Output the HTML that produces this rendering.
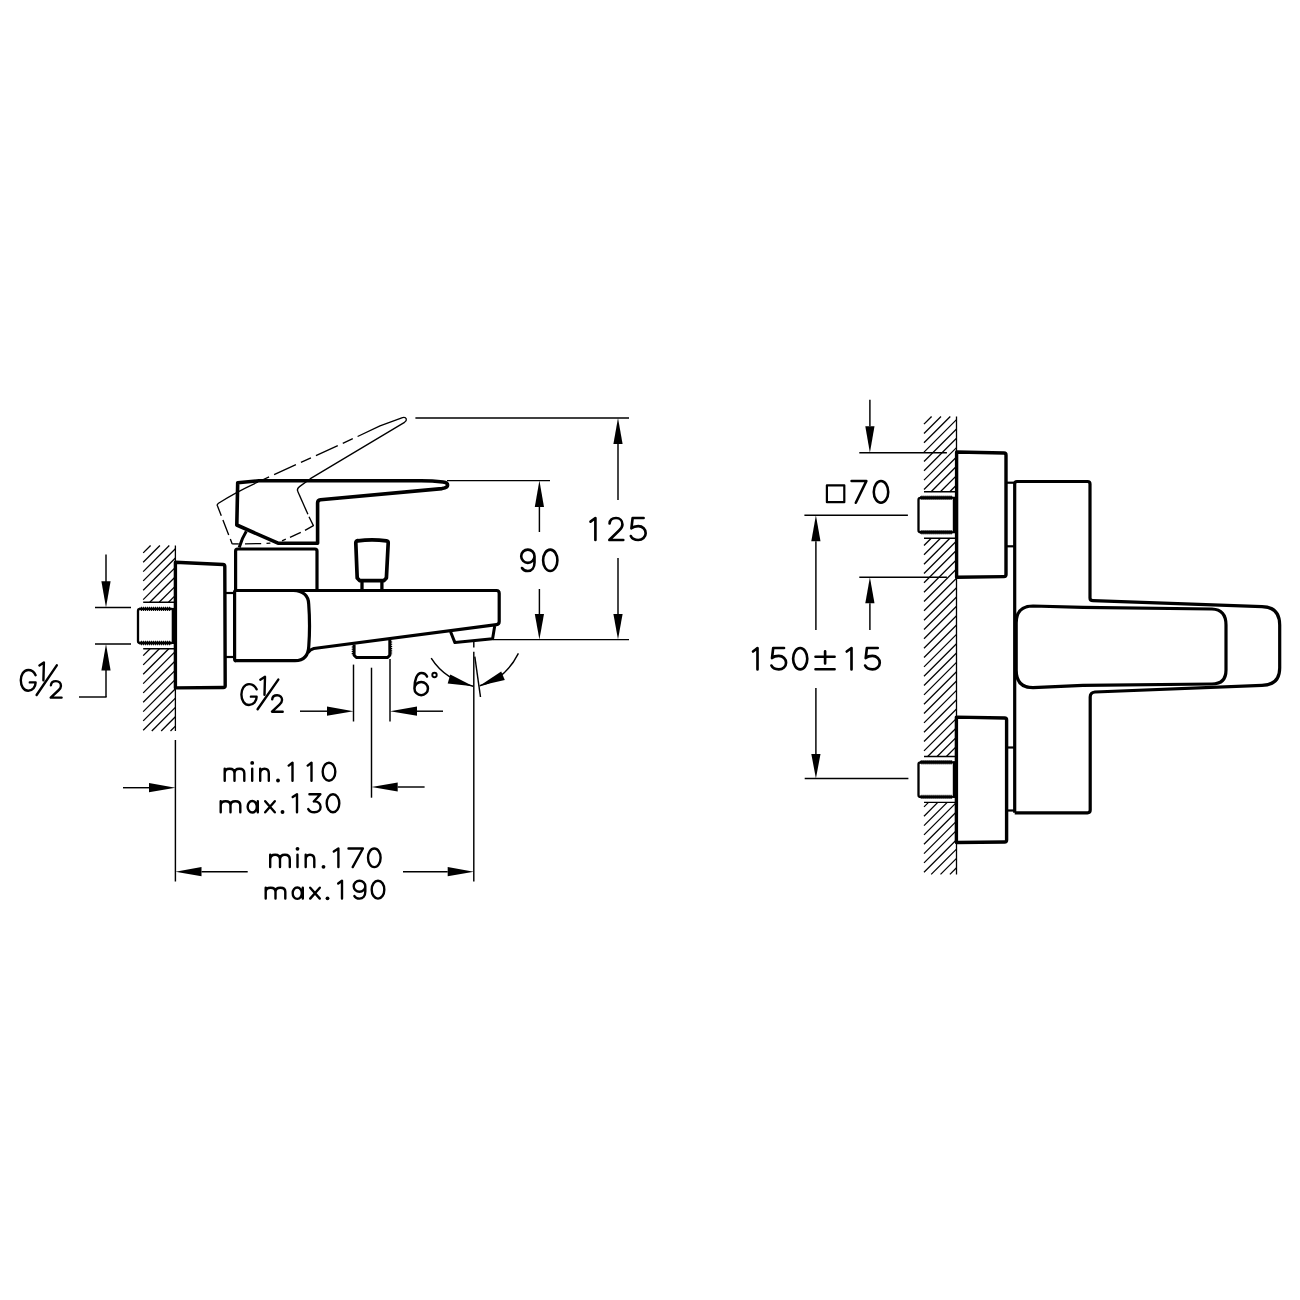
<!DOCTYPE html>
<html><head><meta charset="utf-8"><style>
html,body{margin:0;padding:0;background:#fff;}
svg{display:block;}
</style></head><body>
<svg width="1300" height="1300" viewBox="0 0 1300 1300">
<g fill="none" stroke="#000" stroke-linecap="butt" stroke-linejoin="round">
<style>.f{fill:#000;stroke:none}</style>
<rect x="0" y="0" width="1300" height="1300" fill="#fff" stroke="none"/>
<line x1="143.2" y1="552.9" x2="150.6" y2="545.5" stroke-width="1.3" />
<line x1="143.2" y1="562.2" x2="159.9" y2="545.5" stroke-width="1.3" />
<line x1="143.2" y1="571.6" x2="169.3" y2="545.5" stroke-width="1.3" />
<line x1="143.2" y1="580.9" x2="175.4" y2="548.7" stroke-width="1.3" />
<line x1="143.2" y1="590.2" x2="175.4" y2="558.0" stroke-width="1.3" />
<line x1="143.2" y1="599.6" x2="175.4" y2="567.4" stroke-width="1.3" />
<line x1="149.8" y1="602.3" x2="175.4" y2="576.7" stroke-width="1.3" />
<line x1="159.2" y1="602.3" x2="175.4" y2="586.1" stroke-width="1.3" />
<line x1="168.5" y1="602.3" x2="175.4" y2="595.4" stroke-width="1.3" />
<line x1="143.2" y1="655.6" x2="150.1" y2="648.7" stroke-width="1.3" />
<line x1="143.2" y1="664.9" x2="159.4" y2="648.7" stroke-width="1.3" />
<line x1="143.2" y1="674.3" x2="168.8" y2="648.7" stroke-width="1.3" />
<line x1="143.2" y1="683.6" x2="175.4" y2="651.4" stroke-width="1.3" />
<line x1="143.2" y1="692.9" x2="175.4" y2="660.7" stroke-width="1.3" />
<line x1="143.2" y1="702.3" x2="175.4" y2="670.1" stroke-width="1.3" />
<line x1="143.2" y1="711.6" x2="175.4" y2="679.4" stroke-width="1.3" />
<line x1="143.2" y1="720.9" x2="175.4" y2="688.7" stroke-width="1.3" />
<line x1="143.2" y1="730.3" x2="175.4" y2="698.1" stroke-width="1.3" />
<line x1="151.8" y1="731.0" x2="175.4" y2="707.4" stroke-width="1.3" />
<line x1="161.2" y1="731.0" x2="175.4" y2="716.8" stroke-width="1.3" />
<line x1="170.5" y1="731.0" x2="175.4" y2="726.1" stroke-width="1.3" />
<line x1="143.2" y1="602.3" x2="175.4" y2="602.3" stroke-width="1.4" />
<line x1="143.2" y1="648.7" x2="175.4" y2="648.7" stroke-width="1.4" />
<line x1="175.4" y1="545.5" x2="175.4" y2="731.0" stroke-width="1.3" />
<line x1="175.4" y1="740.0" x2="175.4" y2="881.5" stroke-width="1.45" />
<path d="M140.0,608.9 Q138,608.9 138,610.9 L138,641.0 Q138,643.0 140.0,643.0" stroke-width="2.3" />
<line x1="139.5" y1="608.9" x2="171.5" y2="608.9" stroke-width="2.9" />
<line x1="139.5" y1="643.0" x2="171.5" y2="643.0" stroke-width="2.9" />
<line x1="141.0" y1="608.9" x2="171.0" y2="608.9" stroke-width="4.4" stroke-dasharray="0.9 1.1"/>
<line x1="141.0" y1="643.0" x2="171.0" y2="643.0" stroke-width="4.4" stroke-dasharray="0.9 1.1"/>
<line x1="171.0" y1="608.9" x2="175.0" y2="608.9" stroke-width="1.8" />
<line x1="171.0" y1="643.0" x2="175.0" y2="643.0" stroke-width="1.8" />
<line x1="172.9" y1="607.9" x2="172.9" y2="644.0" stroke-width="2.4" />
<path d="M175.4,562.3 L223,564.5 Q224.8,564.6 224.8,566.5 L225.2,685.8 Q225.2,687.5 223.3,687.5 L175.4,687.9 Z" stroke-width="3.4" />
<line x1="224.8" y1="593.0" x2="234.6" y2="593.0" stroke-width="2.2" />
<line x1="225.0" y1="657.0" x2="234.6" y2="657.0" stroke-width="2.2" />
<path d="M235.6,590 L235.6,551 Q235.6,549 237.6,549 L315,549 Q317,549 317,551 L317,590" stroke-width="3.2" />
<path d="M236,660.8 Q234.6,660.8 234.6,659 L234.6,592 Q234.6,590.5 236.5,590.5 L496.5,590.5 Q499.2,590.5 499.2,593.5 L499.2,621.5 Q499.2,624.3 496.5,624.6 L313.8,648.5 Q310,649.5 308,652.5" stroke-width="3.2" />
<path d="M293.5,590.5 Q308.3,591.2 308.7,604 Q310.3,625 308.8,646 Q308.2,660.7 295,660.7 L236,660.7" stroke-width="3.2" />
<path d="M450.6,631.8 L454.9,642.6 L492.6,638.8 L494.7,626" stroke-width="3.0" />
<path d="M354.1,644.5 L354.1,655.2 L356.4,657.5 L387.6,657.5 L389.8,655.2 L389.8,639.8" stroke-width="3.0" />
<path d="M352.6,646.5 L352.6,655" stroke-width="1.8" stroke-dasharray="1.1 1.1"/>
<path d="M391.3,641.5 L391.3,655" stroke-width="1.8" stroke-dasharray="1.1 1.1"/>
<path d="M357.8,540.8 C365,539.9 379,539.9 386.5,540.8 Q388.3,541 388.2,543 L386.4,578 L384,580.6 L359.6,580.6 L357.2,578 L355.8,543 Q355.8,541 357.8,540.6 Z" stroke-width="3.7" />
<line x1="362.0" y1="581.0" x2="362.0" y2="590.0" stroke-width="3.3" />
<line x1="381.9" y1="581.0" x2="381.9" y2="590.0" stroke-width="3.3" />
<path d="M317.6,543.2 L317.6,503 Q317.6,500.2 320.5,499.8 L442,488.6 Q447.6,487.6 447.6,485 Q447.6,482.6 443,482 C435,481 428,480.7 421,480.7 L259,480.7 L237.7,482.8 L236.8,525 L278,543.2 Z" stroke-width="3.6" stroke-linejoin="round"/>
<path d="M246.3,531.3 Q241.8,538.5 239.2,547.5" stroke-width="3.0" />
<path d="M217.5,506 Q216.6,504.6 218.5,503.2 Q236,492 258,482" stroke-width="1.35" />
<path d="M217.5,506 L232.2,543.9" stroke-width="1.35" stroke-dasharray="10.5 4.5 16 4.5"/>
<path d="M258,482 L357.6,436.5" stroke-width="1.35" stroke-dasharray="24 5.5 11 5.5" stroke-dashoffset="28.3"/>
<path d="M357.6,436.5 L380,425.8 L402.5,417.6 Q405.5,416.8 406.3,419 Q406.8,420.6 404.5,422.3 L310.4,478.7 L299.5,486.6 Q296.8,488.6 297.6,491" stroke-width="1.35" />
<path d="M297.6,491 L307.9,514.3" stroke-width="1.35" />
<path d="M309,516.8 L313.4,525.6 L305,530.4" stroke-width="1.35" />
<path d="M300.8,532.3 L290,537.3" stroke-width="1.35" />
<path d="M285.8,539.2 L282,540.8" stroke-width="1.35" />
<path d="M266.5,543.3 L270.4,543.1" stroke-width="1.35" />
<path d="M245,543.8 L261.2,543.6" stroke-width="1.35" />
<path d="M232.2,543.9 L238.8,543.9" stroke-width="1.35" />
<line x1="95.0" y1="607.5" x2="131.0" y2="607.5" stroke-width="1.45" />
<line x1="95.0" y1="644.0" x2="131.0" y2="644.0" stroke-width="1.45" />
<line x1="106.0" y1="554.6" x2="106.0" y2="582.0" stroke-width="1.45" />
<polygon class="f" points="106.0,607.5 101.4,581.3 110.6,581.3"/>
<line x1="106.0" y1="670.0" x2="106.0" y2="697.0" stroke-width="1.45" />
<polygon class="f" points="106.0,644.0 110.6,670.5 101.4,670.5"/>
<line x1="79.0" y1="697.0" x2="106.6" y2="697.0" stroke-width="1.45" />
<line x1="415.4" y1="418.0" x2="629.0" y2="418.0" stroke-width="1.45" />
<line x1="447.0" y1="480.6" x2="550.0" y2="480.6" stroke-width="1.45" />
<line x1="493.0" y1="639.6" x2="629.0" y2="639.6" stroke-width="1.45" />
<line x1="618.0" y1="444.0" x2="618.0" y2="500.0" stroke-width="1.45" />
<polygon class="f" points="618.0,418.0 622.6,444.0 613.4,444.0"/>
<line x1="618.0" y1="558.0" x2="618.0" y2="614.0" stroke-width="1.45" />
<polygon class="f" points="618.0,639.6 613.4,614.0 622.6,614.0"/>
<line x1="539.4" y1="507.0" x2="539.4" y2="532.0" stroke-width="1.45" />
<polygon class="f" points="539.4,480.6 544.0,507.0 534.8,507.0"/>
<line x1="539.4" y1="589.0" x2="539.4" y2="614.0" stroke-width="1.45" />
<polygon class="f" points="539.4,639.6 534.8,614.0 544.0,614.0"/>
<line x1="353.5" y1="664.6" x2="353.5" y2="721.5" stroke-width="1.45" />
<line x1="390.0" y1="659.0" x2="390.0" y2="721.5" stroke-width="1.45" />
<line x1="371.5" y1="667.7" x2="371.5" y2="797.7" stroke-width="1.45" />
<line x1="300.0" y1="711.2" x2="327.0" y2="711.2" stroke-width="1.45" />
<polygon class="f" points="353.5,711.2 327.0,715.8 327.0,706.6"/>
<line x1="417.0" y1="711.2" x2="443.0" y2="711.2" stroke-width="1.45" />
<polygon class="f" points="390.0,711.2 417.0,706.6 417.0,715.8"/>
<line x1="397.7" y1="787.0" x2="424.6" y2="787.0" stroke-width="1.45" />
<polygon class="f" points="371.5,787.0 397.7,782.4 397.7,791.6"/>
<line x1="123.0" y1="787.7" x2="149.0" y2="787.7" stroke-width="1.45" />
<polygon class="f" points="175.4,787.7 149.0,792.3 149.0,783.1"/>
<line x1="473.8" y1="651.8" x2="473.8" y2="881.5" stroke-width="1.45" />
<line x1="473.8" y1="642.0" x2="473.8" y2="647.5" stroke-width="1.45" />
<line x1="201.5" y1="871.7" x2="247.7" y2="871.7" stroke-width="1.45" />
<polygon class="f" points="175.4,871.7 201.5,867.1 201.5,876.3"/>
<line x1="403.0" y1="871.7" x2="447.7" y2="871.7" stroke-width="1.45" />
<polygon class="f" points="473.8,871.7 447.7,876.3 447.7,867.1"/>
<line x1="474.8" y1="656.6" x2="480.5" y2="697.0" stroke-width="1.45" />
<path d="M431.2,658.2 Q445,680 473.2,686.2" stroke-width="1.45" />
<path d="M518.4,653.4 Q505,680 479.7,685.7" stroke-width="1.45" />
<polygon class="f" points="473.2,686.2 447.7,683.4 450.3,674.6"/>
<polygon class="f" points="479.7,685.7 501.2,671.5 504.8,679.9"/>
<line x1="924.0" y1="424.1" x2="931.6" y2="416.5" stroke-width="1.3" />
<line x1="924.0" y1="433.5" x2="941.0" y2="416.5" stroke-width="1.3" />
<line x1="924.0" y1="442.8" x2="950.3" y2="416.5" stroke-width="1.3" />
<line x1="924.0" y1="452.1" x2="956.5" y2="419.6" stroke-width="1.3" />
<line x1="924.0" y1="461.5" x2="956.5" y2="429.0" stroke-width="1.3" />
<line x1="924.0" y1="470.8" x2="956.5" y2="438.3" stroke-width="1.3" />
<line x1="924.0" y1="480.1" x2="956.5" y2="447.6" stroke-width="1.3" />
<line x1="924.0" y1="489.5" x2="956.5" y2="457.0" stroke-width="1.3" />
<line x1="931.1" y1="491.7" x2="956.5" y2="466.3" stroke-width="1.3" />
<line x1="940.4" y1="491.7" x2="956.5" y2="475.6" stroke-width="1.3" />
<line x1="949.8" y1="491.7" x2="956.5" y2="485.0" stroke-width="1.3" />
<line x1="924.0" y1="545.5" x2="931.2" y2="538.3" stroke-width="1.3" />
<line x1="924.0" y1="554.8" x2="940.5" y2="538.3" stroke-width="1.3" />
<line x1="924.0" y1="564.2" x2="949.9" y2="538.3" stroke-width="1.3" />
<line x1="924.0" y1="573.5" x2="956.5" y2="541.0" stroke-width="1.3" />
<line x1="924.0" y1="582.8" x2="956.5" y2="550.3" stroke-width="1.3" />
<line x1="924.0" y1="592.2" x2="956.5" y2="559.7" stroke-width="1.3" />
<line x1="924.0" y1="601.5" x2="956.5" y2="569.0" stroke-width="1.3" />
<line x1="924.0" y1="610.8" x2="956.5" y2="578.3" stroke-width="1.3" />
<line x1="924.0" y1="620.2" x2="956.5" y2="587.7" stroke-width="1.3" />
<line x1="924.0" y1="629.5" x2="956.5" y2="597.0" stroke-width="1.3" />
<line x1="924.0" y1="638.8" x2="956.5" y2="606.3" stroke-width="1.3" />
<line x1="924.0" y1="648.2" x2="956.5" y2="615.7" stroke-width="1.3" />
<line x1="924.0" y1="657.5" x2="956.5" y2="625.0" stroke-width="1.3" />
<line x1="924.0" y1="666.9" x2="956.5" y2="634.4" stroke-width="1.3" />
<line x1="924.0" y1="676.2" x2="956.5" y2="643.7" stroke-width="1.3" />
<line x1="924.0" y1="685.5" x2="956.5" y2="653.0" stroke-width="1.3" />
<line x1="924.0" y1="694.9" x2="956.5" y2="662.4" stroke-width="1.3" />
<line x1="924.0" y1="704.2" x2="956.5" y2="671.7" stroke-width="1.3" />
<line x1="924.0" y1="713.5" x2="956.5" y2="681.0" stroke-width="1.3" />
<line x1="924.0" y1="722.9" x2="956.5" y2="690.4" stroke-width="1.3" />
<line x1="924.0" y1="732.2" x2="956.5" y2="699.7" stroke-width="1.3" />
<line x1="924.0" y1="741.5" x2="956.5" y2="709.0" stroke-width="1.3" />
<line x1="924.0" y1="750.9" x2="956.5" y2="718.4" stroke-width="1.3" />
<line x1="927.7" y1="756.5" x2="956.5" y2="727.7" stroke-width="1.3" />
<line x1="937.1" y1="756.5" x2="956.5" y2="737.1" stroke-width="1.3" />
<line x1="946.4" y1="756.5" x2="956.5" y2="746.4" stroke-width="1.3" />
<line x1="955.7" y1="756.5" x2="956.5" y2="755.7" stroke-width="1.3" />
<line x1="924.0" y1="806.9" x2="928.5" y2="802.4" stroke-width="1.3" />
<line x1="924.0" y1="816.2" x2="937.8" y2="802.4" stroke-width="1.3" />
<line x1="924.0" y1="825.6" x2="947.2" y2="802.4" stroke-width="1.3" />
<line x1="924.0" y1="834.9" x2="956.5" y2="802.4" stroke-width="1.3" />
<line x1="924.0" y1="844.2" x2="956.5" y2="811.7" stroke-width="1.3" />
<line x1="924.0" y1="853.6" x2="956.5" y2="821.1" stroke-width="1.3" />
<line x1="924.0" y1="862.9" x2="956.5" y2="830.4" stroke-width="1.3" />
<line x1="924.0" y1="872.2" x2="956.5" y2="839.7" stroke-width="1.3" />
<line x1="931.2" y1="874.4" x2="956.5" y2="849.1" stroke-width="1.3" />
<line x1="940.5" y1="874.4" x2="956.5" y2="858.4" stroke-width="1.3" />
<line x1="949.9" y1="874.4" x2="956.5" y2="867.8" stroke-width="1.3" />
<line x1="924.0" y1="491.7" x2="956.5" y2="491.7" stroke-width="1.4" />
<line x1="924.0" y1="538.3" x2="956.5" y2="538.3" stroke-width="1.4" />
<line x1="924.0" y1="756.5" x2="956.5" y2="756.5" stroke-width="1.4" />
<line x1="924.0" y1="802.4" x2="956.5" y2="802.4" stroke-width="1.4" />
<line x1="956.5" y1="416.5" x2="956.5" y2="874.4" stroke-width="1.3" />
<path d="M920.5,497.8 Q918.5,497.8 918.5,499.8 L918.5,530.2 Q918.5,532.2 920.5,532.2" stroke-width="2.3" />
<line x1="920.0" y1="497.8" x2="952.5" y2="497.8" stroke-width="2.9" />
<line x1="920.0" y1="532.2" x2="952.5" y2="532.2" stroke-width="2.9" />
<line x1="921.5" y1="497.8" x2="952.0" y2="497.8" stroke-width="4.4" stroke-dasharray="0.9 1.1"/>
<line x1="921.5" y1="532.2" x2="952.0" y2="532.2" stroke-width="4.4" stroke-dasharray="0.9 1.1"/>
<line x1="952.0" y1="497.8" x2="956.0" y2="497.8" stroke-width="1.8" />
<line x1="952.0" y1="532.2" x2="956.0" y2="532.2" stroke-width="1.8" />
<line x1="954.0" y1="496.8" x2="954.0" y2="533.2" stroke-width="2.4" />
<path d="M920.5,762.3 Q918.5,762.3 918.5,764.3 L918.5,794.9 Q918.5,796.9 920.5,796.9" stroke-width="2.3" />
<line x1="920.0" y1="762.3" x2="952.5" y2="762.3" stroke-width="2.9" />
<line x1="920.0" y1="796.9" x2="952.5" y2="796.9" stroke-width="2.9" />
<line x1="921.5" y1="762.3" x2="952.0" y2="762.3" stroke-width="4.4" stroke-dasharray="0.9 1.1"/>
<line x1="921.5" y1="796.9" x2="952.0" y2="796.9" stroke-width="4.4" stroke-dasharray="0.9 1.1"/>
<line x1="952.0" y1="762.3" x2="956.0" y2="762.3" stroke-width="1.8" />
<line x1="952.0" y1="796.9" x2="956.0" y2="796.9" stroke-width="1.8" />
<line x1="954.0" y1="761.3" x2="954.0" y2="797.9" stroke-width="2.4" />
<path d="M956.6,452 L1004,453 Q1006,453 1006,455 L1006,574.6 Q1006,576.6 1004,576.6 L956.6,577.2 Z" stroke-width="3.4" />
<path d="M956.4,717.1 L1004.6,718 Q1006.6,718 1006.6,720 L1006.6,840 Q1006.6,842 1004.6,842 L956.4,842.5 Z" stroke-width="3.4" />
<line x1="1006.0" y1="482.7" x2="1015.0" y2="482.7" stroke-width="2.2" />
<line x1="1006.0" y1="546.3" x2="1015.0" y2="546.3" stroke-width="2.2" />
<line x1="1006.6" y1="747.5" x2="1014.7" y2="747.5" stroke-width="2.2" />
<line x1="1006.6" y1="810.5" x2="1014.7" y2="810.5" stroke-width="2.2" />
<path d="M1014.7,812.8 L1014.7,484 Q1014.7,481.5 1017,481.5 L1087.5,481.5 Q1090,481.5 1090,484 L1090,598 Q1090,600.7 1093,600.7 L1262,606.6 Q1279.7,607 1279.7,625 L1279.7,668 Q1279.7,685 1262,685.3 L1095,692 Q1090.2,692.5 1090.2,697 L1090.2,810 Q1090.2,812.8 1087.5,812.8 L1014.7,812.8" stroke-width="3.2" />
<path d="M1033,606 L1083,607.4 L1212,609 Q1226,609.5 1226,625 L1226,670 Q1226,684 1212,684 L1083,685.3 L1033,687.7 Q1016.2,687.7 1016.2,670 L1016.2,623 Q1016.2,606 1033,606 Z" stroke-width="3.2" />
<line x1="869.9" y1="399.7" x2="869.9" y2="426.3" stroke-width="1.45" />
<polygon class="f" points="869.9,452.8 865.3,426.3 874.5,426.3"/>
<line x1="859.3" y1="452.8" x2="946.9" y2="452.8" stroke-width="1.45" />
<line x1="859.3" y1="577.2" x2="946.9" y2="577.2" stroke-width="1.45" />
<line x1="869.9" y1="603.2" x2="869.9" y2="630.0" stroke-width="1.45" />
<polygon class="f" points="869.9,577.2 874.5,603.2 865.3,603.2"/>
<line x1="804.4" y1="515.3" x2="907.9" y2="515.3" stroke-width="1.45" />
<line x1="815.9" y1="541.3" x2="815.9" y2="630.0" stroke-width="1.45" />
<polygon class="f" points="815.9,515.3 820.5,541.3 811.3,541.3"/>
<line x1="815.9" y1="688.0" x2="815.9" y2="754.0" stroke-width="1.45" />
<polygon class="f" points="815.9,778.5 811.3,754.0 820.5,754.0"/>
<line x1="804.7" y1="778.5" x2="908.4" y2="778.5" stroke-width="1.45" />
<path d="M590.53,521.62 L595.40,518.03 L595.40,539.97" stroke-width="2.65" stroke-linecap="round" stroke-linejoin="round"/>
<path d="M609.60,523.51 C609.88,519.56 612.39,518.03 616.02,518.03 C619.93,518.03 622.44,520.66 622.44,524.39 C622.44,527.02 621.18,528.56 619.09,530.54 L609.33,539.97 L623.27,539.97" stroke-width="2.65" stroke-linecap="round" stroke-linejoin="round"/>
<path d="M643.60,518.03 L632.61,518.03 L631.42,528.34 C633.05,526.81 635.28,526.15 638.25,526.15 C642.70,526.15 645.67,529.44 645.67,533.17 C645.67,537.12 642.41,539.97 638.25,539.97 C634.54,539.97 631.86,538.44 630.83,536.02" stroke-width="2.65" stroke-linecap="round" stroke-linejoin="round"/>
<path d="M521.20,556.23 A6.65,6.63 0 1 0 534.50,556.23 A6.65,6.63 0 1 0 521.20,556.23 M534.50,556.23 L534.50,562.44 C534.50,567.58 531.84,571.00 527.85,571.00 C525.19,571.00 523.06,569.93 522.00,568.00" stroke-width="2.6" stroke-linecap="round" stroke-linejoin="round"/>
<path d="M543.10,560.30 A7.15,10.70 0 1 0 557.40,560.30 A7.15,10.70 0 1 0 543.10,560.30" stroke-width="2.6" stroke-linecap="round" stroke-linejoin="round"/>
<path d="M753.03,651.50 L757.50,648.03 L757.50,669.38" stroke-width="2.65" stroke-linecap="round" stroke-linejoin="round"/>
<path d="M784.02,648.03 L773.18,648.03 L772.01,658.06 C773.62,656.57 775.82,655.92 778.75,655.92 C783.14,655.92 786.07,659.13 786.07,662.76 C786.07,666.60 782.85,669.38 778.75,669.38 C775.09,669.38 772.45,667.88 771.43,665.53" stroke-width="2.65" stroke-linecap="round" stroke-linejoin="round"/>
<path d="M793.12,658.70 A7.07,10.67 0 1 0 807.28,658.70 A7.07,10.67 0 1 0 793.12,658.70" stroke-width="2.65" stroke-linecap="round" stroke-linejoin="round"/>
<path d="M815.53,656.70 L834.57,656.70 M825.10,651.20 L825.10,663.40 M815.53,669.20 L834.57,669.20" stroke-width="2.65" stroke-linecap="round" stroke-linejoin="round"/>
<path d="M846.73,651.50 L851.50,648.03 L851.50,669.38" stroke-width="2.65" stroke-linecap="round" stroke-linejoin="round"/>
<path d="M877.72,648.03 L866.88,648.03 L865.71,658.06 C867.32,656.57 869.52,655.92 872.45,655.92 C876.85,655.92 879.77,659.13 879.77,662.76 C879.77,666.60 876.55,669.38 872.45,669.38 C868.79,669.38 866.15,667.88 865.12,665.53" stroke-width="2.65" stroke-linecap="round" stroke-linejoin="round"/>
<path d="M851.57,481.07 L866.33,481.07 L855.80,502.73" stroke-width="2.55" stroke-linecap="round" stroke-linejoin="round"/>
<path d="M873.77,491.90 A7.23,10.83 0 1 0 888.23,491.90 A7.23,10.83 0 1 0 873.77,491.90" stroke-width="2.55" stroke-linecap="round" stroke-linejoin="round"/>
<rect x="826.9" y="485.3" width="17.4" height="16.9" fill="none" stroke-width="2.2"/>
<path d="M427.00,676.59 C425.93,674.15 423.90,673.05 421.47,673.05 C416.88,673.05 414.45,679.68 414.45,688.52 M414.45,688.52 A6.75,6.63 0 1 0 427.95,688.52 A6.75,6.63 0 1 0 414.45,688.52" stroke-width="2.5" stroke-linecap="round" stroke-linejoin="round"/>
<circle cx="434.5" cy="675" r="2.2" fill="none" stroke-width="1.9"/>
<path d="M224.70,768.70 L224.70,780.80 M224.70,773.30 C224.70,769.91 226.66,768.70 229.60,768.70 C232.54,768.70 234.50,769.91 234.50,773.30 L234.50,780.80 M234.50,773.30 C234.50,769.91 236.46,768.70 239.40,768.70 C242.34,768.70 244.30,769.91 244.30,773.30 L244.30,780.80" stroke-width="2.4" stroke-linecap="round" stroke-linejoin="round"/>
<path d="M252.20,768.70 L252.20,780.80" stroke-width="2.4" stroke-linecap="round" stroke-linejoin="round"/>
<circle class="f" cx="252.20" cy="762.90" r="1.92"/>
<path d="M260.20,768.70 L260.20,780.80 M260.20,773.54 C260.20,770.15 261.92,768.70 264.50,768.70 C267.08,768.70 268.80,770.15 268.80,773.54 L268.80,780.80" stroke-width="2.4" stroke-linecap="round" stroke-linejoin="round"/>
<circle class="f" cx="278.00" cy="780.50" r="1.92"/>
<path d="M288.70,765.60 L292.50,762.70 L292.50,780.80" stroke-width="2.4" stroke-linecap="round" stroke-linejoin="round"/>
<path d="M307.70,765.60 L311.50,762.70 L311.50,780.80" stroke-width="2.4" stroke-linecap="round" stroke-linejoin="round"/>
<path d="M322.70,771.75 A6.30,9.05 0 1 0 335.30,771.75 A6.30,9.05 0 1 0 322.70,771.75" stroke-width="2.4" stroke-linecap="round" stroke-linejoin="round"/>
<path d="M220.70,801.20 L220.70,812.30 M220.70,805.42 C220.70,802.31 222.66,801.20 225.60,801.20 C228.54,801.20 230.50,802.31 230.50,805.42 L230.50,812.30 M230.50,805.42 C230.50,802.31 232.46,801.20 235.40,801.20 C238.34,801.20 240.30,802.31 240.30,805.42 L240.30,812.30" stroke-width="2.4" stroke-linecap="round" stroke-linejoin="round"/>
<path d="M247.70,806.75 A4.55,5.55 0 1 0 256.79,806.75 A4.55,5.55 0 1 0 247.70,806.75 M257.80,801.20 L257.80,812.30" stroke-width="2.4" stroke-linecap="round" stroke-linejoin="round"/>
<path d="M265.20,801.20 L274.80,812.30 M274.80,801.20 L265.20,812.30" stroke-width="2.4" stroke-linecap="round" stroke-linejoin="round"/>
<circle class="f" cx="282.50" cy="812.00" r="1.92"/>
<path d="M292.70,797.10 L297.00,794.20 L297.00,812.30" stroke-width="2.4" stroke-linecap="round" stroke-linejoin="round"/>
<path d="M309.44,794.20 L320.35,794.20 L313.78,801.44 C318.12,801.08 320.60,803.97 320.60,807.05 C320.60,810.31 317.87,812.30 314.40,812.30 C311.30,812.30 309.07,811.03 308.20,809.04" stroke-width="2.4" stroke-linecap="round" stroke-linejoin="round"/>
<path d="M326.70,803.25 A6.30,9.05 0 1 0 339.30,803.25 A6.30,9.05 0 1 0 326.70,803.25" stroke-width="2.4" stroke-linecap="round" stroke-linejoin="round"/>
<path d="M270.20,854.70 L270.20,867.10 M270.20,859.41 C270.20,855.94 272.16,854.70 275.10,854.70 C278.04,854.70 280.00,855.94 280.00,859.41 L280.00,867.10 M280.00,859.41 C280.00,855.94 281.96,854.70 284.90,854.70 C287.84,854.70 289.80,855.94 289.80,859.41 L289.80,867.10" stroke-width="2.4" stroke-linecap="round" stroke-linejoin="round"/>
<path d="M297.50,854.70 L297.50,867.10" stroke-width="2.4" stroke-linecap="round" stroke-linejoin="round"/>
<circle class="f" cx="297.50" cy="848.80" r="1.92"/>
<path d="M305.70,854.70 L305.70,867.10 M305.70,859.66 C305.70,856.19 307.42,854.70 310.00,854.70 C312.58,854.70 314.30,856.19 314.30,859.66 L314.30,867.10" stroke-width="2.4" stroke-linecap="round" stroke-linejoin="round"/>
<circle class="f" cx="323.50" cy="866.80" r="1.92"/>
<path d="M333.80,851.50 L338.40,848.50 L338.40,867.10" stroke-width="2.4" stroke-linecap="round" stroke-linejoin="round"/>
<path d="M348.50,848.50 L362.90,848.50 L352.70,867.10" stroke-width="2.4" stroke-linecap="round" stroke-linejoin="round"/>
<path d="M368.00,857.80 A6.30,9.30 0 1 0 380.60,857.80 A6.30,9.30 0 1 0 368.00,857.80" stroke-width="2.4" stroke-linecap="round" stroke-linejoin="round"/>
<path d="M265.70,887.70 L265.70,898.60 M265.70,891.84 C265.70,888.79 267.66,887.70 270.60,887.70 C273.54,887.70 275.50,888.79 275.50,891.84 L275.50,898.60 M275.50,891.84 C275.50,888.79 277.46,887.70 280.40,887.70 C283.34,887.70 285.30,888.79 285.30,891.84 L285.30,898.60" stroke-width="2.4" stroke-linecap="round" stroke-linejoin="round"/>
<path d="M292.70,893.15 A4.55,5.45 0 1 0 301.79,893.15 A4.55,5.45 0 1 0 292.70,893.15 M302.80,887.70 L302.80,898.60" stroke-width="2.4" stroke-linecap="round" stroke-linejoin="round"/>
<path d="M310.20,887.70 L319.80,898.60 M319.80,887.70 L310.20,898.60" stroke-width="2.4" stroke-linecap="round" stroke-linejoin="round"/>
<circle class="f" cx="327.50" cy="898.30" r="1.92"/>
<path d="M338.20,883.56 L342.00,880.70 L342.00,898.60" stroke-width="2.4" stroke-linecap="round" stroke-linejoin="round"/>
<path d="M353.70,886.25 A5.80,5.55 0 1 0 365.30,886.25 A5.80,5.55 0 1 0 353.70,886.25 M365.30,886.25 L365.30,891.44 C365.30,895.74 362.98,898.60 359.50,898.60 C357.18,898.60 355.32,897.70 354.40,896.09" stroke-width="2.4" stroke-linecap="round" stroke-linejoin="round"/>
<path d="M371.70,889.65 A6.30,8.95 0 1 0 384.30,889.65 A6.30,8.95 0 1 0 371.70,889.65" stroke-width="2.4" stroke-linecap="round" stroke-linejoin="round"/>
<path d="M35.60,675.17 C33.82,671.24 31.46,670.00 28.20,670.00 C23.46,670.00 20.80,675.17 20.80,680.35 C20.80,686.15 23.76,690.70 28.20,690.70 C32.64,690.70 35.60,686.56 35.60,682.83 L35.60,682.42 L29.80,682.42" stroke-width="2.4" stroke-linecap="round" stroke-linejoin="round"/>
<path d="M39.4,665.4 L43.9,662.5 L43.4,680.4" stroke-width="2.4" stroke-linecap="round" stroke-linejoin="round"/>
<path d="M36.6,695 L56.8,665.3" stroke-width="2.4" stroke-linecap="round" stroke-linejoin="round"/>
<path d="M50.92,685.23 C51.14,682.25 53.10,681.10 55.93,681.10 C58.98,681.10 60.95,683.08 60.95,685.88 C60.95,687.87 59.96,689.02 58.33,690.50 L50.70,697.60 L61.60,697.60" stroke-width="2.4" stroke-linecap="round" stroke-linejoin="round"/>
<path d="M256.60,689.33 C254.78,685.35 252.34,684.10 249.00,684.10 C244.14,684.10 241.40,689.33 241.40,694.55 C241.40,700.40 244.44,705.00 249.00,705.00 C253.56,705.00 256.60,700.82 256.60,697.06 L256.60,696.64 L250.90,696.64" stroke-width="2.4" stroke-linecap="round" stroke-linejoin="round"/>
<path d="M260.3,679.7 L265,676.8 L264.5,694.7" stroke-width="2.4" stroke-linecap="round" stroke-linejoin="round"/>
<path d="M257.6,709.2 L278.3,679.6" stroke-width="2.4" stroke-linecap="round" stroke-linejoin="round"/>
<path d="M272.21,699.33 C272.43,696.36 274.35,695.20 277.14,695.20 C280.13,695.20 282.06,697.18 282.06,699.99 C282.06,701.97 281.09,703.12 279.49,704.61 L272.00,711.70 L282.70,711.70" stroke-width="2.4" stroke-linecap="round" stroke-linejoin="round"/>
</g></svg></body></html>
